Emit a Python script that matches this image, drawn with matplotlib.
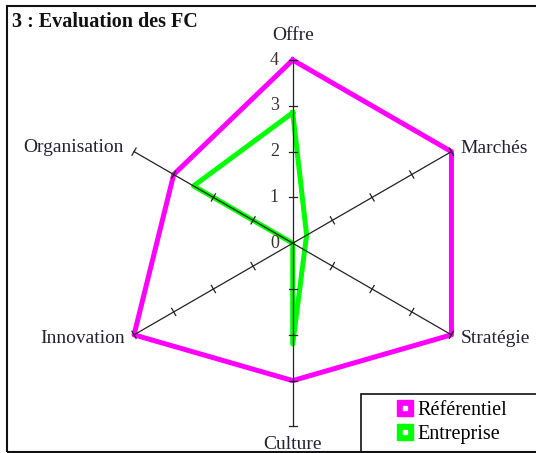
import numpy as np
import matplotlib.pyplot as plt
from matplotlib.lines import Line2D
from matplotlib.patches import Rectangle

# data
categories = ['Offre', 'Marchés', 'Stratégie', 'Culture', 'Innovation', 'Organisation']
referentiel = [4, 4, 4, 3, 4, 3]
entreprise = [2.85, 0.35, 0.3, 2.2, 0, 2.5]
r_ticks = [0, 1, 2, 3, 4]
r_max = 4

plt.rcParams['font.family'] = ['Liberation Serif', 'DejaVu Serif']

W, H = 536, 453
fig = plt.figure(figsize=(W / 100, H / 100), dpi=100)
ax = fig.add_axes([0, 0, 1, 1])
ax.set_xlim(-6.39, 5.31)
ax.set_ylim(-4.58, 5.31)
ax.axis('off')

# spokes go clockwise from the top
angles = np.deg2rad(90 - 60 * np.arange(len(categories)))


def to_xy(values):
    v = np.asarray(values, dtype=float)
    return v * np.cos(angles), v * np.sin(angles)


# series polygons
for vals, col in [(referentiel, '#ff00ff'), (entreprise, '#00ff00')]:
    x, y = to_xy(vals)
    ax.plot(np.append(x, x[0]), np.append(y, y[0]), color=col, lw=3.6, zorder=2)

# spokes with small perpendicular ticks
cap = 0.09
axis_col = '#222222'
for a in angles:
    ax.plot([0, r_max * np.cos(a)], [0, r_max * np.sin(a)], color=axis_col, lw=0.9, zorder=3)
    px, py = -np.sin(a), np.cos(a)
    for t in r_ticks[1:]:
        cx, cy = t * np.cos(a), t * np.sin(a)
        ax.plot([cx - cap * px, cx + cap * px], [cy - cap * py, cy + cap * py],
                color=axis_col, lw=0.9, zorder=3)

# value labels on the Offre spoke
for t in r_ticks:
    ax.annotate(str(t), (0, t), xytext=(-10, 0), textcoords='offset points',
                ha='right', va='center', fontsize=13, color='#3a3030')

# category labels (offset in points from spoke ends)
label_pos = [((0, 14.4), 'center'),
             ((6.7, -1.0), 'left'),
             ((6.7, -5.8), 'left'),
             ((0, -16.5), 'center'),
             ((-6.9, -5.8), 'right'),
             ((-7.6, 0), 'right')]
ex, ey = to_xy([r_max] * len(categories))
for name, x, y, (off, ha) in zip(categories, ex, ey, label_pos):
    ax.annotate(name, (x, y), xytext=off, textcoords='offset points',
                ha=ha, va='baseline', fontsize=14, color='#222233',
                annotation_clip=False)

# title and frame
fig.text(12 / W, 1 - 27 / H, '3 : Evaluation des FC', fontweight='bold',
         fontsize=14.5, va='baseline', color='#111111')
fig.add_artist(Rectangle((7 / W, 1 - 452 / H), (545 - 7) / W, (452 - 6) / H,
                         transform=fig.transFigure, fill=False, lw=1.5,
                         edgecolor='#111111', clip_on=False))
fig.add_artist(Rectangle((361 / W, 1 - 452 / H), (545 - 361) / W, (452 - 394) / H,
                         transform=fig.transFigure, fill=False, lw=1.2,
                         edgecolor='#111111', clip_on=False))

# legend
handles = []
for col in ['#ff00ff', '#00ff00']:
    sq = Line2D([], [], ls='none', marker='s', ms=11, mfc=col, mec=col)
    dot = Line2D([], [], ls='none', marker='s', ms=2.2, mfc='white', mec='white')
    handles.append((sq, dot))
ax.legend(handles, ['Référentiel', 'Entreprise'], loc='upper left',
          bbox_to_anchor=(396 / W, 1 - 401 / H), bbox_transform=fig.transFigure,
          frameon=False, fontsize=14.5, handlelength=0.85, handletextpad=0.2,
          labelspacing=0.25, borderpad=0, borderaxespad=0)

fig.savefig('out.png', dpi=100)
